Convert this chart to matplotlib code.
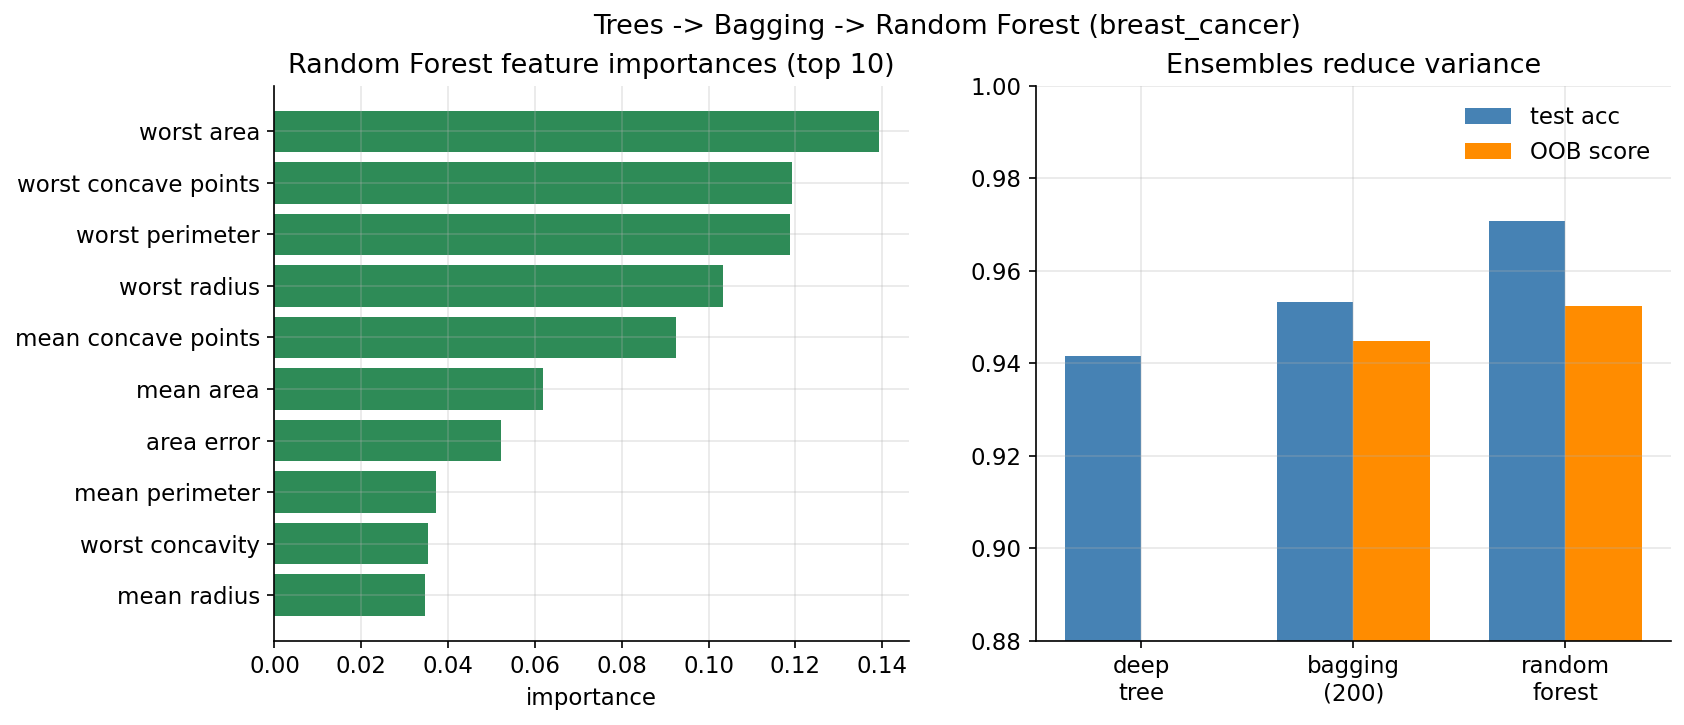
import numpy as np
import matplotlib
matplotlib.use("Agg")
import matplotlib.pyplot as plt

plt.rcParams["font.size"] = 11

# feature importances (top 10), bottom -> top as drawn
features = ["mean radius", "worst concavity", "mean perimeter", "area error", "mean area",
            "mean concave points", "worst radius", "worst perimeter", "worst concave points", "worst area"]
importances = [0.0346, 0.0353, 0.0371, 0.0522, 0.0618, 0.0924, 0.1034, 0.1187, 0.1193, 0.1392]

# ensemble comparison
models = ["deep\ntree", "bagging\n(200)", "random\nforest"]
test_acc = [0.9415, 0.9532, 0.9708]
oob_score = [np.nan, 0.9447, 0.9523]

fig, (ax1, ax2) = plt.subplots(1, 2, figsize=(1684/150, 725/150), dpi=150)
fig.subplots_adjust(left=0.163, right=0.992, top=0.882, bottom=0.116, wspace=0.2)

ax1.barh(features, importances, color="seagreen")
ax1.set_title("Random Forest feature importances (top 10)", fontsize=13)
ax1.set_xlabel("importance")
ax1.grid(alpha=0.3)

x = np.arange(len(models))
w = 0.36
ax2.bar(x - w/2, test_acc, w, color="steelblue", label="test acc")
ax2.bar(x + w/2, oob_score, w, color="darkorange", label="OOB score")
ax2.set_xticks(x)
ax2.set_xticklabels(models)
ax2.set_ylim(0.88, 1.0)
ax2.set_title("Ensembles reduce variance", fontsize=13)
ax2.legend(frameon=False)
ax2.grid(alpha=0.3)

for ax in (ax1, ax2):
    ax.spines["top"].set_visible(False)
    ax.spines["right"].set_visible(False)

fig.suptitle("Trees -> Bagging -> Random Forest (breast_cancer)", fontsize=13, x=0.5625)
fig.savefig("out.png", dpi=150)
